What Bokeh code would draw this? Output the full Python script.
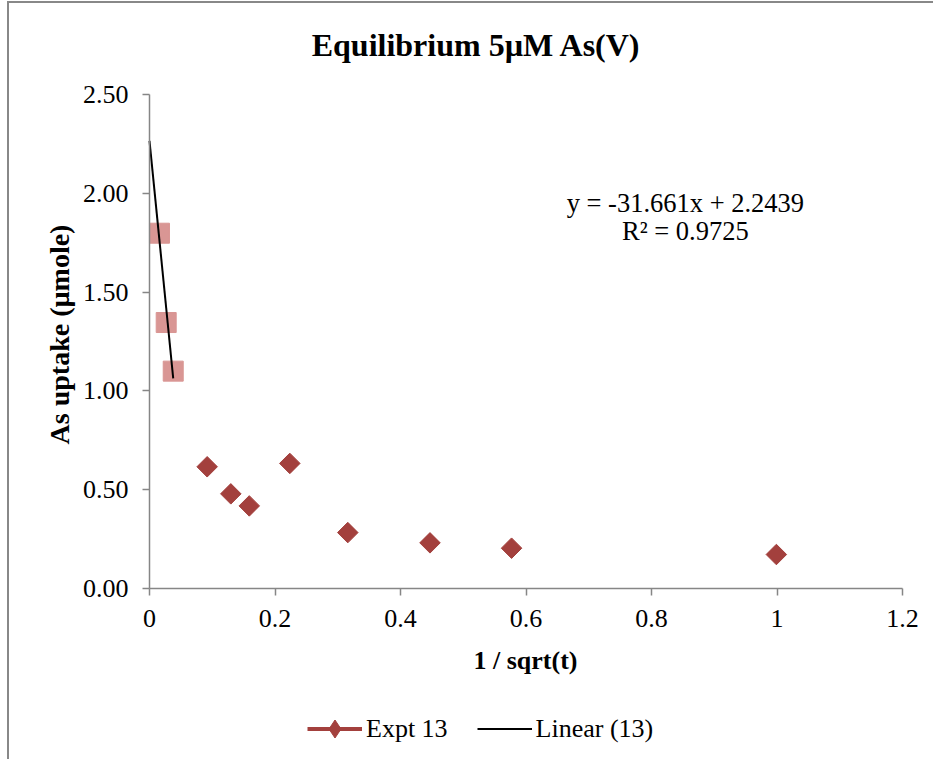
import numpy as np
from bokeh.plotting import figure
from bokeh.models import (Range1d, FixedTicker, NumeralTickFormatter, Label,
                          Legend, LegendItem, ColumnDataSource)
from bokeh.embed import file_html
from bokeh.resources import INLINE

# ---- data ----
title_text = "Equilibrium 5µM As(V)"
x_label = "1 / sqrt(t)"
y_label = "As uptake (µmole)"

expt_x = [0.0919, 0.1296, 0.159, 0.2236, 0.316, 0.447, 0.577, 0.999]
expt_y = [0.616, 0.479, 0.418, 0.633, 0.283, 0.231, 0.204, 0.172]

fit_x = [0.0159, 0.0266, 0.0378]
fit_y = [1.798, 1.346, 1.100]

eq_text = "y = -31.661x + 2.2439"
r2_text = "R² = 0.9725"

x_ticks = [0, 0.2, 0.4, 0.6, 0.8, 1.0, 1.2]
x_tick_labels = ["0", "0.2", "0.4", "0.6", "0.8", "1", "1.2"]
y_ticks = [0, 0.5, 1.0, 1.5, 2.0, 2.5]

FONT = "Liberation Serif"
DARK = "#A3403D"
PINK = "#D99694"
AXC = "#868686"

# ---- layout (canvas pixels) ----
W, H = 926, 758
X0_PX, Y0_PX = 140, 585          # where x=0 / y=0 fall on the canvas
XSCALE, YSCALE = 627.5, 197.6    # pixels per data unit


def dx(px):
    return (px - X0_PX) / XSCALE


def dy(py):
    return (Y0_PX - py) / YSCALE


p = figure(width=W, height=H, output_backend="svg", toolbar_location=None,
           x_range=Range1d(dx(0), dx(W)), y_range=Range1d(dy(H), dy(0)),
           min_border=0,
           styles={"margin-left": "7px", "margin-top": "1px",
                   "border-left": "2px solid #888888",
                   "border-top": "2px solid #888888"})
p.outline_line_color = None
p.grid.visible = False
p.background_fill_color = "white"
p.border_fill_color = "white"

for ax in (p.xaxis[0], p.yaxis[0]):
    ax.fixed_location = 0
    ax.axis_line_color = AXC
    ax.axis_line_width = 1.5
    ax.major_tick_line_color = AXC
    ax.major_tick_line_width = 1.5
    ax.major_tick_out = 7
    ax.major_tick_in = 0
    ax.minor_tick_line_color = None
    ax.major_label_text_font = FONT
    ax.major_label_text_font_size = "26px"
    ax.major_label_text_color = "black"

p.xaxis.bounds = (x_ticks[0], x_ticks[-1])
p.xaxis.ticker = FixedTicker(ticks=x_ticks)
p.xaxis.major_label_overrides = {t: l for t, l in zip(x_ticks, x_tick_labels)}
p.xaxis.major_label_standoff = 14

p.yaxis.bounds = (y_ticks[0], y_ticks[-1])
p.yaxis.ticker = FixedTicker(ticks=y_ticks)
p.yaxis.formatter = NumeralTickFormatter(format="0.00")
p.yaxis.major_label_standoff = 14

# titles
p.add_layout(Label(x=dx(467), y=dy(41), text=title_text, text_font=FONT,
                   text_font_size="32px", text_font_style="bold",
                   text_color="black", text_align="center",
                   text_baseline="alphabetic"))
p.add_layout(Label(x=dx(516), y=dy(657), text=x_label, text_font=FONT,
                   text_font_size="26px", text_font_style="bold",
                   text_color="black", text_align="center",
                   text_baseline="alphabetic"))
p.add_layout(Label(x=dx(50), y=dy(331), text=y_label, angle=np.pi / 2,
                   text_font=FONT, text_font_size="28px", text_font_style="bold",
                   text_color="black", text_align="center",
                   text_baseline="middle"))

# expt series
src = ColumnDataSource(dict(x=expt_x, y=expt_y))
expt_line = p.line("x", "y", source=src, line_color=DARK, line_width=4)
expt_line.visible = False
expt_pts = p.scatter("x", "y", source=src, marker="square", size=14.5,
                     angle=np.pi / 4, fill_color=DARK, line_color=DARK)
expt_key = p.scatter("x", "y", source=src, marker="diamond", size=18,
                     fill_color=DARK, line_color=DARK)
expt_key.visible = False

# points used for the linear fit
p.scatter(fit_x, fit_y, marker="square", size=20, fill_color=PINK,
          line_color=PINK)

slope, intercept = np.polyfit(fit_x, fit_y, 1)
lx = np.array([0.0, max(fit_x)])
lin = p.line(lx, slope * lx + intercept, line_color="black", line_width=2)

p.add_layout(Label(x=0.854, y=1.95, text=eq_text, text_font=FONT,
                   text_font_size="26.5px", text_align="center",
                   text_color="black", text_baseline="alphabetic"))
p.add_layout(Label(x=0.854, y=1.808, text=r2_text, text_font=FONT,
                   text_font_size="26.5px", text_align="center",
                   text_color="black", text_baseline="alphabetic"))

legend = Legend(items=[LegendItem(label="Expt 13", renderers=[expt_line, expt_key]),
                       LegendItem(label="Linear (13)", renderers=[lin])],
                orientation="horizontal", location=(298, 10),
                padding=0, margin=0, spacing=29, glyph_width=55,
                glyph_height=45, label_standoff=4,
                label_text_font=FONT, label_text_font_size="26px",
                label_text_color="black",
                border_line_alpha=0, background_fill_alpha=0)
p.add_layout(legend, "center")

open("out.html", "w").write(file_html(p, INLINE))
